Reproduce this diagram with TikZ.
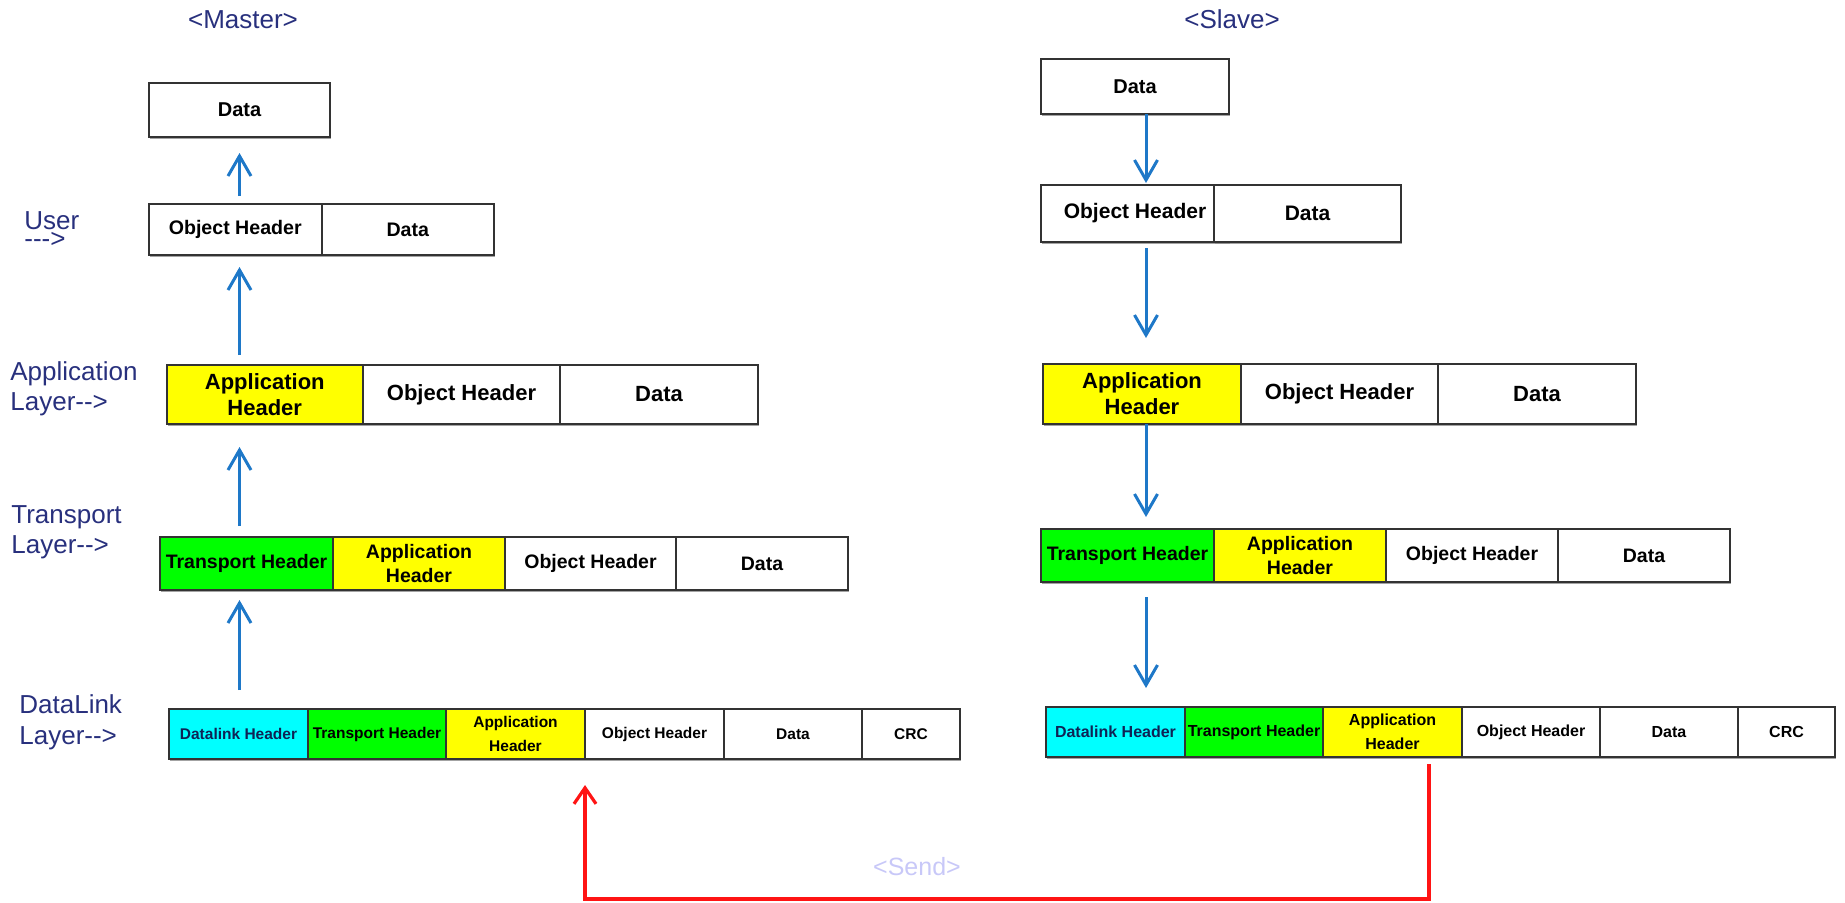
\documentclass[tikz,border=0pt]{standalone}
\usepackage{fontspec}
\setmainfont{Liberation Sans}
\usetikzlibrary{arrows.meta,shadows}

\definecolor{navy}{RGB}{40,48,125}
\definecolor{flowblue}{RGB}{30,120,200}
\definecolor{sendred}{RGB}{255,20,20}
\definecolor{sendtext}{RGB}{200,200,248}
\definecolor{hdrcyan}{RGB}{0,255,255}
\definecolor{hdrgreen}{RGB}{0,255,0}
\definecolor{hdryellow}{RGB}{255,255,0}
\definecolor{dlinktext}{RGB}{15,35,85}

\tikzset{
  cellfont/.style={font=\bfseries},
  cellbox/.style={draw=black!80, line width=1pt, inner sep=0pt, outer sep=0pt,
    align=center, text=black, cellfont,
    drop shadow={shadow xshift=0.7pt, shadow yshift=-0.9pt, fill=black!45, opacity=0.8}},
  lbl/.style={text=navy, font=\fontsize{13}{15}\selectfont, inner sep=0pt, anchor=base west},
  title/.style={text=navy, font=\fontsize{13}{15}\selectfont, inner sep=0pt, anchor=base},
  flow/.style={draw=flowblue, line width=1.5pt, -{Straight Barb[length=10pt,width=11.5pt]}},
  send/.style={draw=sendred, line width=1.6pt, -{Straight Barb[length=8pt,width=11pt]}},
}

% one frame field: name, left, right, top, bottom, fill, text
\newcommand\pcell[7]{%
  \node[cellbox, fill=#6, minimum width={(#3-#2)*0.5pt}, minimum height={(#5-#4)*0.5pt}]
    (#1) at ({(#2+#3)/2},{(#4+#5)/2}) {#7};}

\begin{document}
\begin{tikzpicture}[x=0.5pt, y=-0.5pt]
\useasboundingbox (0,0) rectangle (1845,902);

% ---------- titles ----------
\node[title] (master) at (243,28) {<Master>};
\node[title] (slave) at (1232,28) {<Slave>};

% ---------- layer labels (base anchor sits on the last line) ----------
\node[lbl, align=left, font=\fontsize{13}{9}\selectfont] (luser) at (24,247) {User\\-{}-{}->};
\node[lbl] (lapp) at (10,380) {Application};
\node[lbl] (lappl) at (10,410) {Layer-{}->};
\node[lbl] (ltr) at (11,523) {Transport};
\node[lbl] (ltrl) at (11,553) {Layer-{}->};
\node[lbl] (ldl) at (19,713) {DataLink};
\node[lbl] (ldll) at (19,744) {Layer-{}->};

% ---------- master side ----------
\begin{scope}[cellfont/.style={font=\bfseries\fontsize{10}{12}\selectfont}]
  \pcell{mD}{149}{330}{83}{137}{white}{Data}
\end{scope}
\begin{scope}[cellfont/.style={font=\bfseries\fontsize{9.8}{12}\selectfont}]
  \pcell{mOH1}{149}{321.5}{204}{255}{white}{Object Header}
  \pcell{mOH2}{321.5}{494}{204}{255}{white}{Data}
\end{scope}
\begin{scope}[cellfont/.style={font=\bfseries\fontsize{11}{13}\selectfont}]
  \pcell{mAP1}{166.5}{363}{365}{424}{hdryellow}{Application\\Header}
  \pcell{mAP2}{363}{560}{365}{424}{white}{Object Header}
  \pcell{mAP3}{560}{758}{365}{424}{white}{Data}
\end{scope}
\begin{scope}[cellfont/.style={font=\bfseries\fontsize{9.75}{12}\selectfont}]
  \pcell{mTR1}{160}{333}{537}{590}{hdrgreen}{Transport Header}
  \pcell{mTR2}{333}{505}{537}{590}{hdryellow}{Application\\Header}
  \pcell{mTR3}{505}{676}{537}{590}{white}{Object Header}
  \pcell{mTR4}{676}{848}{537}{590}{white}{Data}
\end{scope}
\begin{scope}[cellfont/.style={font=\bfseries\fontsize{7.75}{12}\selectfont}]
  \pcell{mDL1}{169}{308}{709}{759}{hdrcyan}{\textcolor{dlinktext}{Datalink Header}}
  \pcell{mDL2}{308}{446}{709}{759}{hdrgreen}{Transport Header}
  \pcell{mDL3}{446}{585}{709}{759}{hdryellow}{Application\\Header}
  \pcell{mDL4}{585}{724}{709}{759}{white}{Object Header}
  \pcell{mDL5}{724}{862}{709}{759}{white}{Data}
  \pcell{mDL6}{862}{960}{709}{759}{white}{CRC}
\end{scope}

% ---------- slave side ----------
\begin{scope}[cellfont/.style={font=\bfseries\fontsize{10}{12}\selectfont}]
  \pcell{sD}{1041}{1229}{59}{114}{white}{Data}
\end{scope}
\begin{scope}[cellfont/.style={font=\bfseries\fontsize{10.5}{12}\selectfont}]
  \pcell{sOH1}{1041}{1229}{185}{242}{white}{Object Header}
  \pcell{sOH2}{1214}{1401}{185}{242}{white}{Data}
\end{scope}
\begin{scope}[cellfont/.style={font=\bfseries\fontsize{11}{13}\selectfont}]
  \pcell{sAP1}{1043}{1241}{364}{424}{hdryellow}{Application\\Header}
  \pcell{sAP2}{1241}{1438}{364}{424}{white}{Object Header}
  \pcell{sAP3}{1438}{1636}{364}{424}{white}{Data}
\end{scope}
\begin{scope}[cellfont/.style={font=\bfseries\fontsize{9.75}{12}\selectfont}]
  \pcell{sTR1}{1041}{1214}{529}{582}{hdrgreen}{Transport Header}
  \pcell{sTR2}{1214}{1386}{529}{582}{hdryellow}{Application\\Header}
  \pcell{sTR3}{1386}{1558}{529}{582}{white}{Object Header}
  \pcell{sTR4}{1558}{1730}{529}{582}{white}{Data}
\end{scope}
\begin{scope}[cellfont/.style={font=\bfseries\fontsize{8}{12}\selectfont}]
  \pcell{sDL1}{1046}{1185}{707}{757}{hdrcyan}{\textcolor{dlinktext}{Datalink Header}}
  \pcell{sDL2}{1185}{1323}{707}{757}{hdrgreen}{Transport Header}
  \pcell{sDL3}{1323}{1462}{707}{757}{hdryellow}{Application\\Header}
  \pcell{sDL4}{1462}{1600}{707}{757}{white}{Object Header}
  \pcell{sDL5}{1600}{1738}{707}{757}{white}{Data}
  \pcell{sDL6}{1738}{1835}{707}{757}{white}{CRC}
\end{scope}

% ---------- upward flow on the master ----------
\draw[flow, shorten <=4pt, shorten >=8pt] (mOH1.north -| mD.south) -- (mD.south);
\draw[flow, shorten <=5pt, shorten >=6pt] (mAP1.north -| mD.south) -- (mOH1.south -| mD.south);
\draw[flow, shorten <=5.5pt, shorten >=11.5pt] (mTR1.north -| mD.south) -- (mAP1.south -| mD.south);
\draw[flow, shorten <=9.5pt, shorten >=5pt] (mDL1.north -| mD.south) -- (mTR1.south -| mD.south);

% ---------- downward flow on the slave ----------
\coordinate (saxis) at (1146,0);
\draw[flow, shorten >=1pt] (sD.south -| saxis) -- (sOH1.north -| saxis);
\draw[flow, shorten <=3pt, shorten >=13pt] (sOH1.south -| saxis) -- (sAP1.north -| saxis);
\draw[flow, shorten >=6pt] (sAP1.south -| saxis) -- (sTR1.north -| saxis);
\draw[flow, shorten <=7.5pt, shorten >=9.5pt] (sTR1.south -| saxis) -- (sDL1.north -| saxis);

% ---------- frame sent from slave to master ----------
\draw[send, shorten <=3.5pt, shorten >=13pt] ([xshift=18.25pt]sDL3.south) -- ++(0,142) -| (mDL3.south east);
\node[title, text=sendtext, font=\fontsize{12.5}{15}\selectfont] (sendlbl) at (917,875) {<Send>};

\end{tikzpicture}
\end{document}
